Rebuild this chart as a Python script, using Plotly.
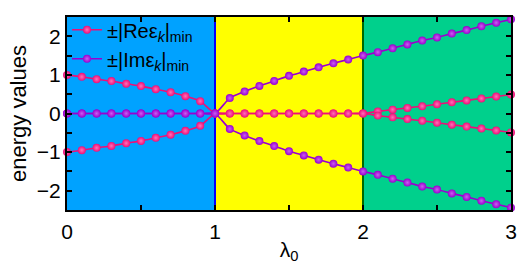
import plotly.graph_objects as go

lam = [0.0, 0.1, 0.2, 0.3, 0.4, 0.5, 0.6, 0.7, 0.8, 0.9,
       1.0, 1.1, 1.2, 1.3, 1.4, 1.5, 1.6, 1.7, 1.8, 1.9,
       2.0, 2.1, 2.2, 2.3, 2.4, 2.5, 2.6, 2.7, 2.8, 2.9, 3.0]

re_abs = [1.00, 0.95, 0.89, 0.84, 0.77, 0.71, 0.63, 0.55, 0.45, 0.32,
          0.00, 0.00, 0.00, 0.00, 0.00, 0.00, 0.00, 0.00, 0.00, 0.00,
          0.00, 0.055, 0.10, 0.145, 0.19, 0.24, 0.29, 0.34, 0.39, 0.44, 0.49]

im_abs = [0.00, 0.00, 0.00, 0.00, 0.00, 0.00, 0.00, 0.00, 0.00, 0.00,
          0.00, 0.40, 0.57, 0.715, 0.845, 0.975, 1.085, 1.195, 1.30, 1.40,
          1.50, 1.59, 1.69, 1.79, 1.89, 1.97, 2.07, 2.16, 2.26, 2.35, 2.44]

region_edges = [0, 1, 2, 3]
region_colors = ["#00A2FF", "#FFFF00", "#00D08C"]
boundary_colors = ["#0000FF", "#006A00"]

x_ticks = [0, 1, 2, 3]
y_ticks = [-2, -1, 0, 1, 2]

PINK = "#EE0F78"
PINK_HI = "#FF70B8"
PURPLE = "#9A00CF"
PURPLE_HI = "#C860F0"
FONT = "Liberation Sans, Arial, sans-serif"

fig = go.Figure()

for i, col in enumerate(region_colors):
    fig.add_shape(type="rect", xref="x", yref="paper",
                  x0=region_edges[i], x1=region_edges[i + 1], y0=0, y1=1,
                  fillcolor=col, line_width=0, layer="below")
for i, col in enumerate(boundary_colors):
    fig.add_shape(type="line", xref="x", yref="paper",
                  x0=region_edges[i + 1], x1=region_edges[i + 1], y0=0, y1=1,
                  line=dict(color=col, width=2), layer="below")

def add(y, color, hi, name, show):
    fig.add_trace(go.Scatter(
        x=lam, y=y, mode="lines+markers", name=name, showlegend=show,
        line=dict(color=color, width=1.6, shape="spline", smoothing=0.6),
        marker=dict(color=color, size=8, line=dict(width=0),
                    gradient=dict(type="radial", color=hi)),
        cliponaxis=False,
    ))

add(re_abs, PINK, PINK_HI, "±|Reε<sub><i>k</i></sub>|<sub>min</sub>", True)
add(im_abs, PURPLE, PURPLE_HI, "±|Imε<sub><i>k</i></sub>|<sub>min</sub>", True)
add([-v for v in re_abs], PINK, PINK_HI, "", False)
add([-v for v in im_abs], PURPLE, PURPLE_HI, "", False)

axis_common = dict(showline=True, linecolor="black", linewidth=2, mirror="ticks",
                   ticks="inside", ticklen=5, tickwidth=1.5, tickcolor="black",
                   showgrid=False, zeroline=False, automargin=False,
                   tickfont=dict(family=FONT, size=21, color="black"))

fig.update_xaxes(range=[0, 3], tickvals=x_ticks, ticklabelstandoff=2,
                 minor=dict(dtick=0.5, ticks="inside", ticklen=5, tickcolor="black", tickwidth=1.5),
                 title=dict(text="λ<sub>0</sub>", font=dict(family=FONT, size=21, color="black"), standoff=0),
                 **axis_common)
fig.update_yaxes(range=[-2.5, 2.5], tickvals=y_ticks,
                 minor=dict(dtick=0.5, ticks="inside", ticklen=5, tickcolor="black", tickwidth=1.5),
                 title=dict(text="energy values", font=dict(family=FONT, size=22, color="black"), standoff=4),
                 **axis_common)

fig.update_layout(
    width=523, height=270,
    margin=dict(l=67, r=12, t=10, b=60),
    paper_bgcolor="white", plot_bgcolor="white",
    font=dict(family=FONT, color="black"),
    showlegend=True,
    legend=dict(x=0.0, y=1.035, xanchor="left", yanchor="top", bgcolor="rgba(0,0,0,0)",
                font=dict(family=FONT, size=20, color="black"), itemwidth=30,
                tracegroupgap=0),
)

fig.write_html("out.html", config={"displayModeBar": False},
               post_script="document.body.style.margin='0px';document.body.style.overflow='hidden';")
